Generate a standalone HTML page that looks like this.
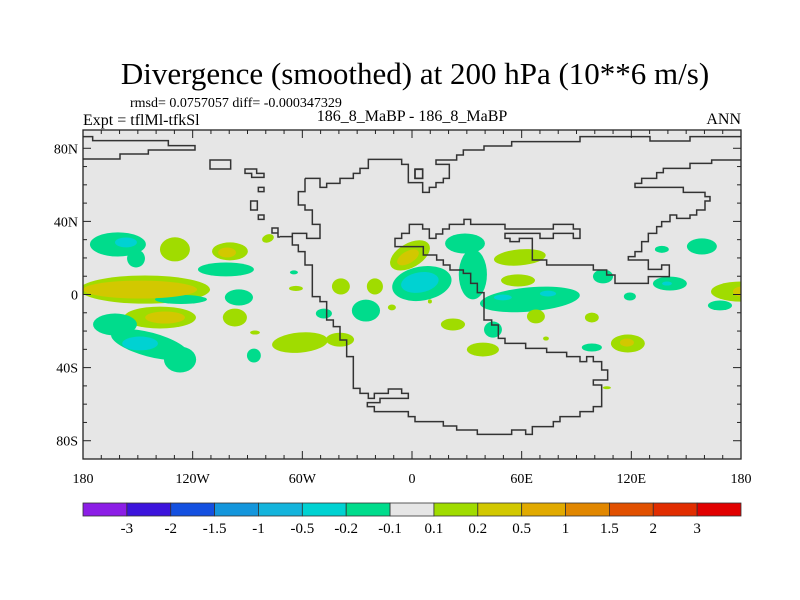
<!DOCTYPE html>
<html><head><meta charset="utf-8"><style>
html,body{margin:0;padding:0;background:#fff;}
svg{display:block;font-family:"Liberation Serif",serif;}
</style></head><body>
<svg id="chart" width="800" height="600" viewBox="0 0 800 600" xmlns="http://www.w3.org/2000/svg">
<defs><clipPath id="plotclip"><rect x="83" y="130" width="658" height="329"/></clipPath></defs>
<text x="415" y="84" font-size="31" text-anchor="middle">Divergence (smoothed) at 200 hPa (10**6 m/s)</text>
<text x="130" y="107" font-size="14">rmsd= 0.0757057 diff= -0.000347329</text>
<text x="83" y="125" font-size="16">Expt = tflMl-tfkSl</text>
<text x="412" y="121" font-size="16" text-anchor="middle">186_8_MaBP - 186_8_MaBP</text>
<text x="741" y="124" font-size="16" text-anchor="end">ANN</text>
<rect x="83" y="130" width="658" height="329" fill="#e6e6e6"/>
<g id="blobs" clip-path="url(#plotclip)"></g>
<g fill="none" stroke="#333" clip-path="url(#plotclip)">
<g transform="translate(280,130) scale(0.33333)" stroke-width="4.5">
<path d="M1385,90 H1295 V100 H1230 V115 H1150 V128 H1130 V145 H1085 V160 H1065 V172 H1210 V187 H1275 V200 H1290 V213 H1275 V240 H1250 V255 H1230 V265 H1190 V255 H1170 V275 H1145 V290 H1130 V310 H1105 V335 H1085 V365 H1065 V380 H1045 V390 H1105 V418 H1145 V405 H1168 V440 H1105 V460 H1005 V435 H980 V420 H940 V405 H800 V390 H757 V325 H718 V335 H690 V325 H675 V310 H780 V325 H820 V310 H880 V325 H900 V297 H880 V283 H820 V297 H675 V283 H572 V268 H552 V283 H508 V297 H488 V312 H468 V325 H448 V297 H428 V283 H388 V310 H365 V325 H345 V350 H430 V375 H470 V390 H490 V405 H510 V420 H550 V430 H572 V460 H592 V488 H612 V570 H635 V585 H655 V625 H675 V640 H737 V655 H800 V667 H860 V680 H900 V695 H920 V680 H940 V695 H965 V720 H983 V750 H940 V765 H965 V830 H940 V845 H900 V860 H840 V875 H820 V890 H757 V913 H737 V900 H695 V913 H592 V900 H530 V888 H490 V875 H405 V860 H385 V845 H283 V830 H262 V818 H300 V805 H385 V790 H365 V777 H325 V790 H283 V805 H265 V790 H240 V775 H220 V680 H200 V630 H180 V590 H160 V570 H140 V515 H120 V500 H97 V405 H75 V365 H55 V345 H37 V320 H0"/>
<path d="M75,145 H120 V172 H140 V160 H180 V145 H220 V130 H240 V115 H265 V88 H365 V103 H385 V158 H428 V187 H448 V172 H468 V158 H490 V145 H508 V103 H468 V90 H530 V75 H550 V60 H612 V48 H695 V35 H900 V20 H1110 V33 H1230 V20 H1385"/>
<path d="M75,145 V185 H55 V225 H75 V240 H97 V283 H120 V325 H80 V310 H37 V320"/>
<path d="M405,118 H428 V145 H405 Z"/>
</g>
<path stroke-width="1.5" d="M280,237 H278 V228 H272 V233 H278"/>
<g transform="translate(60,90) scale(0.33333)" stroke-width="4.5">
<path d="M68,140 H98 V152 H325 V167 H405 V180 H265 V192 H180 V207 H68"/>
<path d="M450,210 H512 V237 H450 Z"/>
<path d="M555,237 H590 V250 H612 V262 H575 V250 H555 Z"/>
<path d="M595,292 H612 V305 H595 Z"/>
<path d="M572,333 H592 V360 H572 Z"/>
<path d="M595,375 H612 V388 H595 Z"/>
<path d="M1065,237 H1088 V265 H1065 Z"/>
</g>
</g>
<g id="axes"></g>
<rect x="83" y="130" width="658" height="329" fill="none" stroke="#222" stroke-width="1.3"/>
<g id="colorbar"></g>
</svg>
<script>
const blobLon=[-160.9,-151,-129.7,-99.6,-101.8,-146.1,-126.4,-137.9,-162.5,-143.4,-126.9,-94.7,-96.9,-86.5,-61.3,-39.4,-78.8,-64.6,-63.5,-48.2,-85.9,-38.9,-20.3,-25.2,-11,-1.1,5.4,9.8,29,33.3,64.5,59,58,22.4,44.3,38.8,67.8,73.3,104.5,119.2,98.4,98.4,118.1,136.7,158.6,141.1,168.5,180,106.6,
 -156.5,-101.2,-148.8,-135.1,-148.8,-2.2,4.3,49.7,74.4,117.6,139.5,180];
const blobLat=[27.4,19.7,24.7,23.6,13.7,2.7,-2.7,-12.6,-16.4,-27.4,-35.6,-1.6,-12.6,-33.4,-26.3,-24.7,30.7,12.1,3.3,-10.4,-20.8,4.4,4.4,-8.8,-7.1,21.4,6,-3.8,27.9,11,-2.7,20.3,7.7,-16.4,-19.2,-30.1,-12,-24.1,9.9,-1.1,-12.6,-29,-26.8,24.7,26.3,6,-6,1.6,-51,
 28.5,23,2.7,-12.6,-26.8,20.3,6.6,-1.6,0.5,-26.3,6,1.6];
const blobRx=[15.3,4.9,8.2,9.8,15.3,35.6,14.2,19.7,12,21.9,8.8,7.7,6.6,3.8,15.3,7.7,3.3,2.2,3.8,4.4,2.7,4.9,4.4,7.7,2.2,12,16.4,1.1,10.9,7.7,27.4,14.2,9.3,6.6,4.9,8.8,4.9,1.6,5.5,3.3,3.8,5.5,9.3,3.8,8.2,9.3,6.6,16.4,2.2,
 6,4.9,31.2,10.9,9.8,6.6,10.4,4.9,4.4,3.8,2.7,4.4];
const blobRy=[6.6,4.9,6.6,4.9,3.8,7.7,2.5,6,6,6.6,7.1,4.4,4.9,3.8,5.5,3.8,2.2,1.1,1.4,2.7,1.1,4.4,4.4,6,1.6,6.6,9.3,1.1,5.5,13.7,6.6,4.4,3.3,3.3,4.4,3.8,3.8,1.1,3.8,2.2,2.7,2.2,4.9,1.9,4.4,3.8,2.7,5.5,0.8,
 2.7,2.7,4.9,3.3,3.8,3.3,5.5,1.6,1.6,2.2,1.1,2.7];
const blobRot=[0,0,0,0,0,0,0,0,0,15,0,0,0,0,-5,0,-20,0,0,0,0,0,0,0,0,-30,-10,0,0,0,-5,-5,0,0,0,0,0,0,0,0,0,0,0,0,0,0,0,0,0,
 0,0,0,0,0,-30,-10,0,0,0,0,0];
const blobVal=[-0.15,-0.15,0.15,0.15,-0.15,0.15,-0.15,0.15,-0.15,-0.15,-0.15,-0.15,0.15,-0.15,0.15,0.15,0.15,-0.15,0.15,-0.15,0.15,0.15,0.15,-0.15,0.15,0.15,-0.15,0.15,-0.15,-0.15,-0.15,0.15,0.15,0.15,-0.15,0.15,0.15,0.15,-0.15,-0.15,0.15,-0.15,0.15,-0.15,-0.15,-0.15,-0.15,0.15,0.15,
 -0.3,0.3,0.3,0.3,-0.3,0.3,-0.3,-0.3,-0.3,0.3,-0.3,0.3];
const levels=[-3,-2,-1.5,-1,-0.5,-0.2,-0.1,0.1,0.2,0.5,1,1.5,2,3];
const levelLabels=["-3","-2","-1.5","-1","-0.5","-0.2","-0.1","0.1","0.2","0.5","1","1.5","2","3"];
const levelColors=["#8c1ee6","#3c14dc","#1450e0","#1496dc","#14b4dc","#00d2d2","#00dc8c","#e6e6e6","#a0dc00","#d2c800","#e1aa00","#e18700","#e15000","#e12d00","#e10000"];
const lonTicks=[-180,-120,-60,0,60,120,180];
const lonLabels=["180","120W","60W","0","60E","120E","180"];
const latTicks=[80,40,0,-40,-80];
const latLabels=["80N","40N","0","40S","80S"];

const NS="http://www.w3.org/2000/svg";
const X0=83,X1=741,Y0=130,Y1=459;
function X(lon){return X0+(lon+180)/360*(X1-X0);}
function Y(lat){return Y0+(90-lat)/180*(Y1-Y0);}
function mk(tag,attrs,parent){const e=document.createElementNS(NS,tag);for(const k in attrs)e.setAttribute(k,attrs[k]);parent.appendChild(e);return e;}
function colorFor(v){let i=0;while(i<levels.length&&v>levels[i])i++;return levelColors[i];}

const bg=document.getElementById('blobs');
const order=blobVal.map((v,i)=>i).sort((a,b)=>Math.abs(blobVal[a])-Math.abs(blobVal[b]));
order.forEach(i=>{
  const cx=X(blobLon[i]),cy=Y(blobLat[i]);
  const e=mk('ellipse',{cx:cx,cy:cy,rx:blobRx[i]*(X1-X0)/360,ry:blobRy[i]*(Y1-Y0)/180,fill:colorFor(blobVal[i]),transform:'rotate('+blobRot[i]+' '+cx+' '+cy+')'},bg);
  
  
});

const ax=document.getElementById('axes');
for(let lon=-180;lon<=180;lon+=10){
  const len=(lon%60===0)?8:4;const x=X(lon);
  const t1=mk('line',{x1:x,x2:x,y1:Y1,y2:Y1-len,stroke:'#222','stroke-width':1},ax);
  
  
  const t2=mk('line',{x1:x,x2:x,y1:Y0,y2:Y0+len,stroke:'#222','stroke-width':1},ax);
  
  
}
for(let lat=-90;lat<=90;lat+=10){
  const len=(lat%40===0)?8:4;const y=Y(lat);
  const t1=mk('line',{x1:X0,x2:X0+len,y1:y,y2:y,stroke:'#222','stroke-width':1},ax);
  
  
  const t2=mk('line',{x1:X1,x2:X1-len,y1:y,y2:y,stroke:'#222','stroke-width':1},ax);
  
  
}
lonTicks.forEach((lon,i)=>{
  const t=mk('text',{x:X(lon),y:483,'font-size':14,'text-anchor':'middle'},ax);t.textContent=lonLabels[i];
  
  
});
latTicks.forEach((lat,i)=>{
  const t=mk('text',{x:78,y:Y(lat)+5,'font-size':14,'text-anchor':'end'},ax);t.textContent=latLabels[i];
  
  
});

const cb=document.getElementById('colorbar');
const n=levelColors.length,bw=(X1-X0)/n;
levelColors.forEach((c,i)=>{
  const r=mk('rect',{x:X0+i*bw,y:503,width:bw,height:13,fill:c,stroke:'#333','stroke-width':0.8},cb);
  
  
});
levelLabels.forEach((l,i)=>{
  const t=mk('text',{x:X0+(i+1)*bw,y:533,'font-size':15,'text-anchor':'middle'},cb);t.textContent=l;
  
  
});
</script>
</body></html>
